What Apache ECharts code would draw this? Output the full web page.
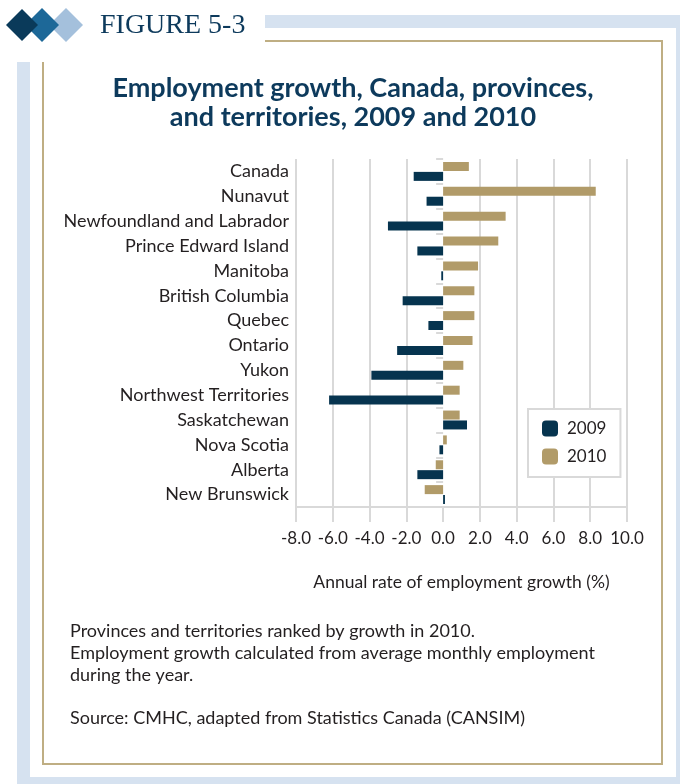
<!DOCTYPE html>
<html>
<head>
<meta charset="utf-8">
<script src="https://cdn.jsdelivr.net/npm/echarts@6/dist/echarts.min.js"></script>
<style>
  html, body { margin: 0; padding: 0; background: #fff; }
  #chart { width: 680px; height: 784px; }
</style>
</head>
<body>
<div id="chart"></div>
<script>
var categories = [
  "Canada", "Nunavut", "Newfoundland and Labrador", "Prince Edward Island",
  "Manitoba", "British Columbia", "Quebec", "Ontario", "Yukon",
  "Northwest Territories", "Saskatchewan", "Nova Scotia", "Alberta", "New Brunswick"
];
var growth2009 = [-1.6, -0.9, -3.0, -1.4, -0.1, -2.2, -0.8, -2.5, -3.9, -6.2, 1.3, -0.2, -1.4, 0.1];
var growth2010 = [1.4, 8.3, 3.4, 3.0, 1.9, 1.7, 1.7, 1.6, 1.1, 0.9, 0.9, 0.2, -0.4, -1.0];
var xMin = -8, xMax = 10, xStep = 2;
var notes = [
  "Provinces and territories ranked by growth in 2010.",
  "Employment growth calculated from average monthly employment",
  "during the year."
];
var source = "Source: CMHC, adapted from Statistics Canada (CANSIM)";

var navy = "#06344f";
var gold = "#b19b69";
var grey = "#d9d9d9";
var ink = "#231f20";
var font = "Lato";

var gridLeft = 296, gridRight = 53, chartW = 680;
var chart = echarts.init(document.getElementById("chart"));

// the zero gridline is hidden in the original
var gridColors = [];
for (var v = xMin; v <= xMax; v += xStep) {
  gridColors.push(v === 0 ? "rgba(0,0,0,0)" : grey);
}
// distance from the grid's left edge to x = 0, for the tick-only axis
var zeroOffset = (chartW - gridLeft - gridRight) * (0 - xMin) / (xMax - xMin);

function diamond(cx, cy, r, color) {
  return {
    type: "polygon",
    shape: { points: [[cx, cy - r], [cx + r, cy], [cx, cy + r], [cx - r, cy]] },
    style: { fill: color }
  };
}

function note(text, y) {
  return {
    type: "text",
    style: { text: text, x: 70, y: y, textVerticalAlign: "middle", font: "18px Lato", fill: ink }
  };
}

var option = {
  backgroundColor: "#fff",
  textStyle: { fontFamily: font },
  animation: false,
  grid: {
    left: gridLeft, right: gridRight, top: 159, bottom: 277,
    containLabel: false,
    outerBoundsMode: "none"
  },
  legend: {
    orient: "vertical",
    left: 528,
    top: 409,
    padding: [11, 14, 12, 14],
    itemWidth: 16,
    itemHeight: 16,
    itemGap: 11,
    backgroundColor: "#fff",
    borderColor: grey,
    borderWidth: 2,
    data: ["2009", "2010"],
    textStyle: { fontSize: 17, color: ink, fontFamily: font, padding: [0, 0, 0, 4] }
  },
  xAxis: {
    type: "value",
    min: xMin,
    max: xMax,
    interval: xStep,
    name: "Annual rate of employment growth (%)",
    nameLocation: "middle",
    nameGap: 66,
    nameTextStyle: { fontSize: 17.5, color: ink, fontFamily: font },
    axisLine: { show: true, lineStyle: { color: grey, width: 2 } },
    axisTick: { show: true, length: 15, lineStyle: { color: grey, width: 2 } },
    axisLabel: {
      margin: 23,
      fontSize: 17,
      color: ink,
      fontFamily: font,
      formatter: function (val) { return val.toFixed(1); }
    },
    splitLine: { show: true, lineStyle: { color: gridColors, width: 2 } }
  },
  yAxis: [
    {
      // labels on the left
      type: "category",
      inverse: true,
      position: "left",
      data: categories,
      axisLine: { show: false },
      axisTick: { show: false },
      axisLabel: { margin: 7, fontSize: 18, color: ink, fontFamily: font }
    },
    {
      // ticks only, moved in to x = 0
      type: "category",
      inverse: true,
      position: "left",
      offset: -zeroOffset,
      data: categories,
      axisLine: { show: false },
      axisTick: { show: true, length: 7, lineStyle: { color: grey, width: 2 } },
      axisLabel: { show: false }
    }
  ],
  series: [
    {
      name: "2010",
      type: "bar",
      barWidth: 9,
      barGap: "10%",
      itemStyle: { color: gold },
      data: growth2010
    },
    {
      name: "2009",
      type: "bar",
      barWidth: 9,
      barGap: "10%",
      itemStyle: { color: navy },
      data: growth2009
    }
  ],
  graphic: [
    {
      type: "rect",
      z: -10,
      shape: { x: 23.5, y: 21.5, width: 659, height: 762 },
      style: { fill: null, stroke: "#d6e2f0", lineWidth: 13 }
    },
    {
      type: "rect",
      z: -9,
      shape: { x: 43, y: 41, width: 619, height: 723 },
      style: { fill: "#fff", stroke: "#bfae83", lineWidth: 2 }
    },
    {
      type: "rect",
      z: -8,
      shape: { x: 0, y: 0, width: 265, height: 62 },
      style: { fill: "#fff" }
    },
    {
      type: "group",
      z: -7,
      children: [
        diamond(66, 25, 17, "#a4c0dc"),
        diamond(42, 25, 17, "#1d6898"),
        diamond(22, 25, 16, "#0a3a5a")
      ]
    },
    {
      type: "text",
      z: -7,
      style: {
        text: "FIGURE 5-3",
        x: 100, y: 26,
        textVerticalAlign: "middle",
        font: "28px 'Liberation Serif'",
        fill: "#0d3a5c"
      }
    },
    {
      type: "text",
      style: {
        text: "Employment growth, Canada, provinces,",
        x: 353, y: 88,
        textAlign: "center",
        textVerticalAlign: "middle",
        font: "bold 27px Lato",
        fill: "#0d3a5c"
      }
    },
    {
      type: "text",
      style: {
        text: "and territories, 2009 and 2010",
        x: 353, y: 117,
        textAlign: "center",
        textVerticalAlign: "middle",
        font: "bold 27px Lato",
        fill: "#0d3a5c"
      }
    },
    note(notes[0], 631),
    note(notes[1], 653),
    note(notes[2], 675),
    note(source, 718)
  ]
};

chart.setOption(option);
window.addEventListener("resize", function () {
  chart.resize();
});
</script>
</body>
</html>
